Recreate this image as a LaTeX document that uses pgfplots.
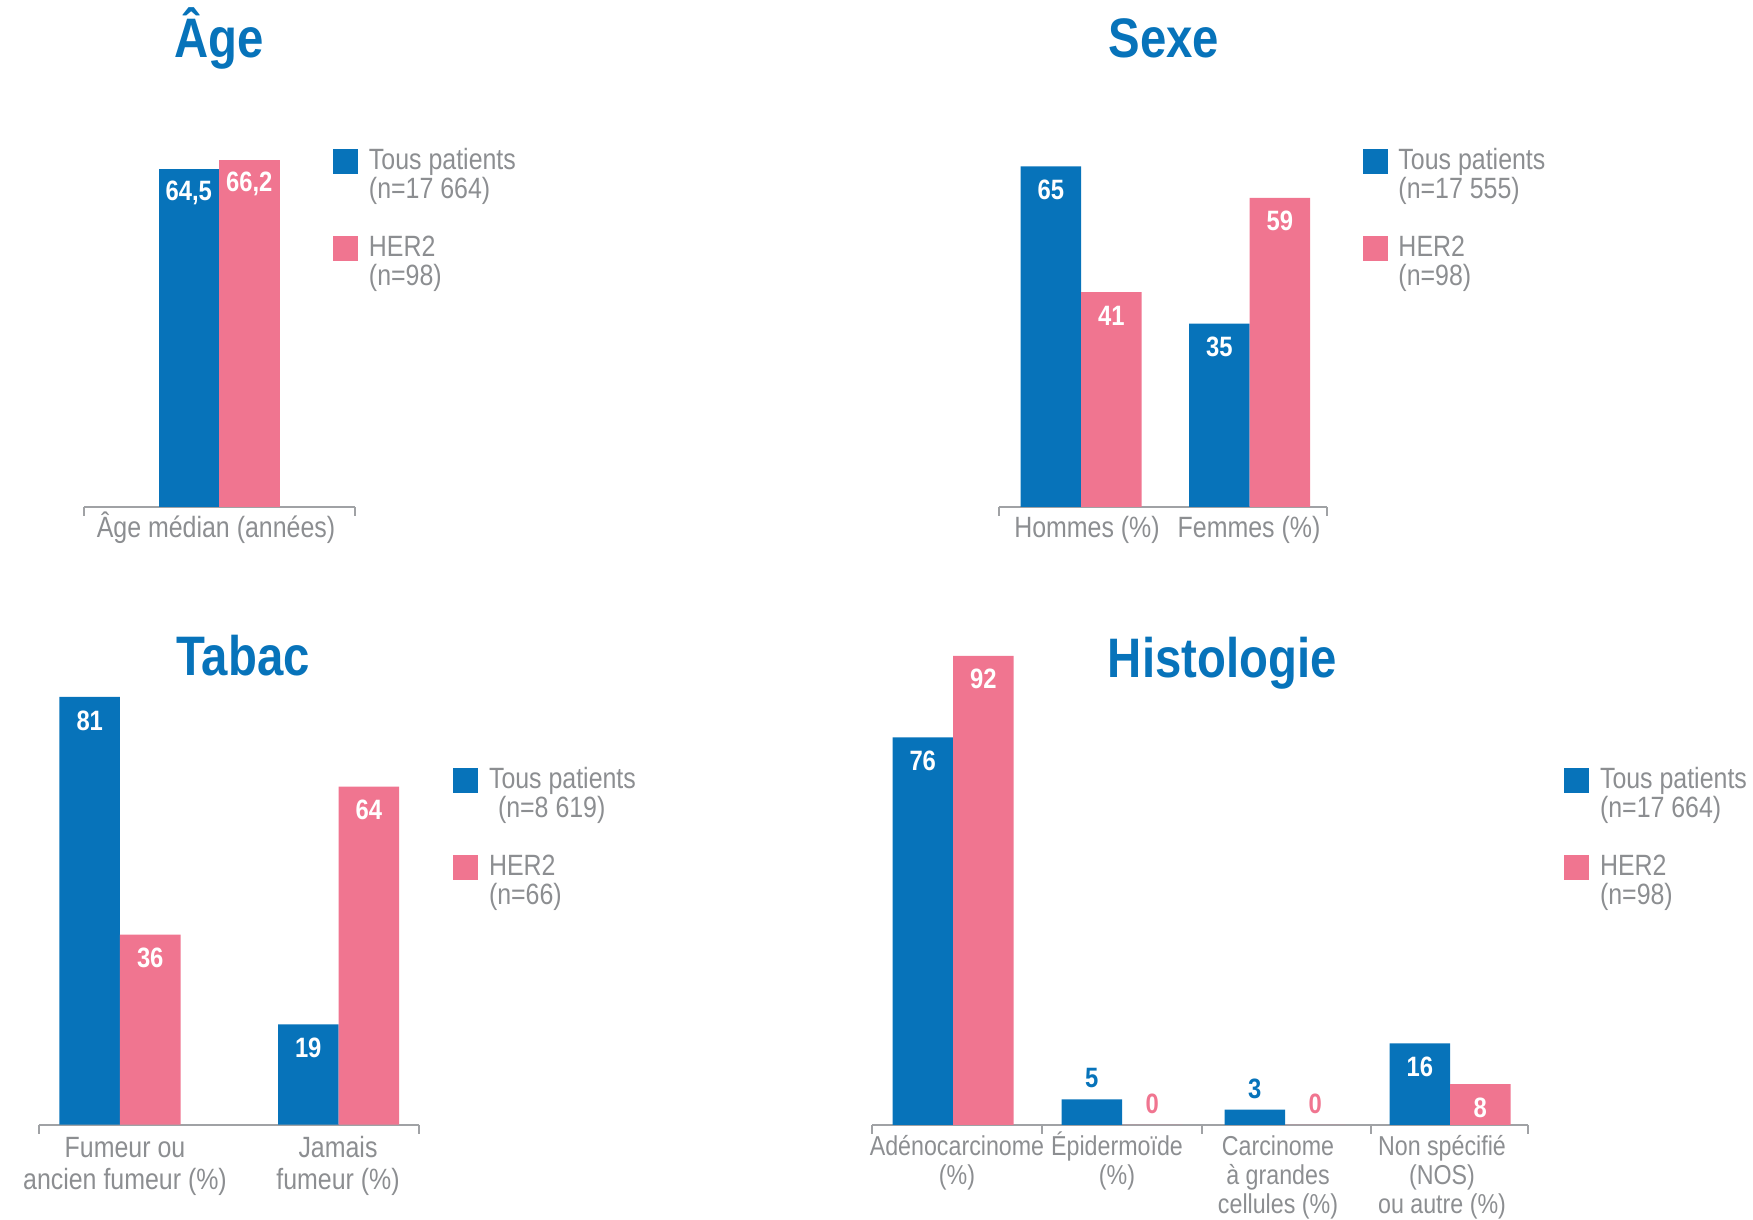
\documentclass[border=0pt]{standalone}
\usepackage{fontspec}
\setmainfont{Liberation Sans}[FakeStretch=0.85]
\usepackage{pgfplots}
\pgfplotsset{compat=1.18}

\definecolor{tpblue}{RGB}{7,115,186}
\definecolor{tppink}{RGB}{240,117,144}
\definecolor{lgray}{RGB}{140,142,145}
\definecolor{agray}{RGB}{160,162,165}

\newcommand{\titlefont}{\fontsize{16.7pt}{17pt}\selectfont\bfseries}
\newcommand{\valfont}{\fontsize{8.4pt}{9pt}\selectfont\bfseries}
\newcommand{\legfont}{\fontsize{8.8pt}{7.8pt}\selectfont}
% multi-line labels whose baseline is the first line
\newcommand{\tl}[1]{\begin{tabular}[t]{@{}c@{}}#1\end{tabular}}
\newcommand{\tll}[1]{\begin{tabular}[t]{@{}l@{}}#1\end{tabular}}

% 1 px of the reference = 0.3pt
\pgfplotsset{
  panel/.style={
    x=0.3pt, clip=false, ymin=0, enlargelimits=false,
    anchor=south west,
    axis x line*=bottom, axis y line=none,
    x axis line style={draw=agray, line width=0.6pt},
    major tick length=0pt,
    xticklabel style={anchor=base, text=lgray},
    extra x tick labels={},
    extra x tick style={tick align=outside, major tick length=2.7pt,
      tick style={draw=agray, line width=0.6pt}},
    % the default title style already shifts it up by 6pt
    title style={anchor=base, yshift=-6pt, font=\titlefont, text=tpblue},
    legend style={anchor=north west, draw=none, fill=none, inner sep=0pt,
      outer sep=0pt, row sep=0pt, column sep=3.3pt,
      cells={anchor=base west},
      nodes={inner sep=0pt, text height=6.2pt, text depth=19.9pt,
        font=\legfont, text=lgray}},
    /pgf/number format/assume math mode=true,
    /pgf/number format/use comma,
  },
  bars/.style={ybar, bar width=60.5, bar shift=0pt, draw=none, fill=#1,
    legend image code/.code={\fill[##1] (0pt,-1.35pt) rectangle (7.5pt,6.15pt);}},
  inlab/.style={nodes near coords, every node near coord/.append style={
      anchor=center, yshift=-7.05pt, text=white, font=\valfont}},
  uplab/.style={nodes near coords, every node near coord/.append style={
      anchor=center, yshift=6.3pt, text=#1, font=\valfont}},
}

\begin{document}
\begin{tikzpicture}

% Age
\begin{axis}[panel, at={(25.2pt,-152.1pt)},
  y=1.572pt, xmin=84, xmax=355, ymax=80,
  xtick={216}, xticklabels={Âge médian (années)},
  xticklabel style={yshift=-9.3pt, font=\fontsize{8.8pt}{8.7pt}\selectfont},
  extra x ticks={84,355},
  title={Âge}, title style={at={(0.498,1.0711)}},
  legend style={at={(0.9188,0.854)}},
]
\addplot[bars=tpblue, inlab] coordinates {(188.75,64.5)};
\addlegendentry{\tll{Tous patients\\(n=17 664)}}
\addplot[bars=tppink, inlab] coordinates {(249.25,66.2)};
\addlegendentry{\tll{HER2\\(n=98)}}
\end{axis}

% Sexe
\begin{axis}[panel, at={(299.7pt,-152.1pt)},
  y=1.572pt, xmin=999, xmax=1327, ymax=80,
  xtick={1087,1249}, xticklabels={Hommes (\%), Femmes (\%)},
  xticklabel style={yshift=-9.3pt, font=\fontsize{8.8pt}{8.7pt}\selectfont},
  extra x ticks={999,1327},
  title={Sexe}, title style={at={(0.503,1.0711)}},
  legend style={at={(1.1082,0.854)}},
]
\addplot[bars=tpblue, inlab] coordinates {(1050.75,65) (1219.25,35)};
\addlegendentry{\tll{Tous patients\\(n=17 555)}}
\addplot[bars=tppink, inlab] coordinates {(1111.25,41) (1279.75,59)};
\addlegendentry{\tll{HER2\\(n=98)}}
\end{axis}

% Tabac
\begin{axis}[panel, at={(11.7pt,-337.4pt)},
  y=1.584pt, xmin=39, xmax=419, ymax=90,
  xtick={125,338},
  xticklabels={{\tl{Fumeur ou\\ancien fumeur (\%)}},{\tl{Jamais\\fumeur (\%)}}},
  xticklabel style={yshift=-9.9pt, font=\fontsize{8.8pt}{9.6pt}\selectfont},
  extra x ticks={39,419},
  title={Tabac}, title style={at={(0.537,0.945)}},
  legend style={at={(1.0895,0.751)}},
]
\addplot[bars=tpblue, inlab] coordinates {(89.75,81) (308.25,19)};
\addlegendentry{\tll{Tous patients\\\hspace*{2.7pt}(n=8 619)}}
\addplot[bars=tppink, inlab] coordinates {(150.25,36) (368.75,64)};
\addlegendentry{\tll{HER2\\(n=66)}}
\end{axis}

% Histologie
\begin{axis}[panel, at={(261.6pt,-337.5pt)},
  y=1.53pt, xmin=872, xmax=1528, ymax=100,
  xtick={957,1117,1278,1442},
  xticklabels={{\tl{Adénocarcinome\\(\%)}},{\tl{Épidermoïde\\(\%)}},
    {\tl{Carcinome\\à grandes\\cellules (\%)}},{\tl{Non spécifié\\(NOS)\\ou autre (\%)}}},
  xticklabel style={yshift=-9.3pt, font=\fontsize{8.2pt}{8.7pt}\selectfont},
  extra x ticks={872,1041.6,1201.5,1370.5,1528},
  title={Histologie}, title style={at={(0.534,0.878)}},
  legend style={at={(1.0549,0.701)}},
]
\addplot[bars=tpblue, inlab] coordinates {(922.75,76) (1419.75,16)};
\addlegendentry{\tll{Tous patients\\(n=17 664)}}
\addplot[bars=tpblue, uplab=tpblue, forget plot] coordinates {(1091.75,5) (1254.75,3)};
\addplot[bars=tppink, inlab] coordinates {(983.25,92) (1480.25,8)};
\addlegendentry{\tll{HER2\\(n=98)}}
\addplot[bars=tppink, uplab=tppink, forget plot] coordinates {(1152.25,0) (1315.25,0)};
\end{axis}

\pgfresetboundingbox
\useasboundingbox (0pt,0pt) rectangle (525.9pt,-366pt);
\end{tikzpicture}
\end{document}
